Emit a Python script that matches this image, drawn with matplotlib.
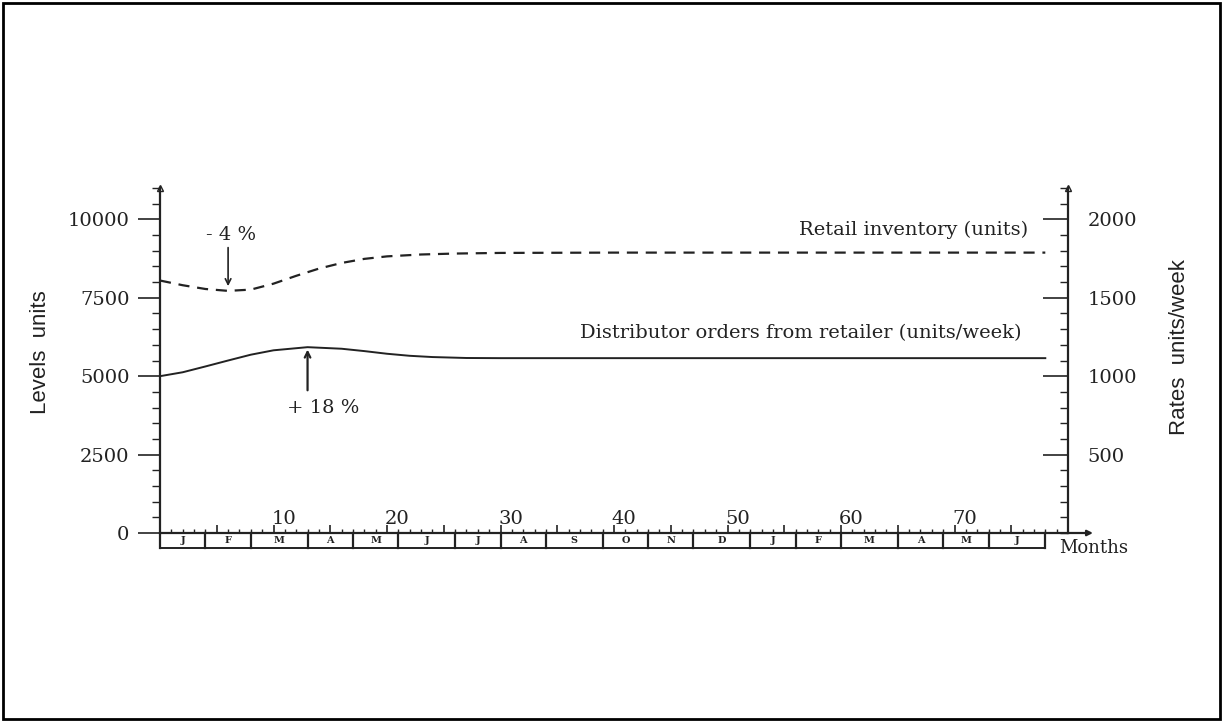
import matplotlib
matplotlib.use("Agg")
import matplotlib.pyplot as plt
from matplotlib.patches import Rectangle
from matplotlib.ticker import MultipleLocator
import numpy as np

# values (weeks on x)
retail_weeks = [0, 2, 4, 6, 8, 10, 12, 14, 16, 18, 20, 23, 26, 30, 40, 78]
retail_inventory = [8050, 7900, 7780, 7720, 7760, 7950, 8200, 8430, 8610,
                    8740, 8820, 8880, 8910, 8930, 8940, 8940]  # units

order_weeks = [0, 2, 4, 6, 8, 10, 13, 16, 18, 20, 22, 24, 27, 30, 78]
distributor_orders = [1000, 1025, 1062, 1100, 1137, 1165, 1185, 1175, 1160,
                      1143, 1130, 1122, 1116, 1115, 1115]  # units/week

level_ticks = [0, 2500, 5000, 7500, 10000]
rate_ticks = [500, 1000, 1500, 2000]
week_labels = [10, 20, 30, 40, 50, 60, 70]
month_names = ["J", "F", "M", "A", "M", "J", "J", "A", "S",
               "O", "N", "D", "J", "F", "M", "A", "M", "J"]
month_weeks = [4, 4, 5] * 6

ink = "#222222"
plt.rcParams["font.family"] = ["DejaVu Serif"]
plt.rcParams["text.color"] = ink
plt.rcParams["axes.edgecolor"] = ink
plt.rcParams["xtick.color"] = ink
plt.rcParams["ytick.color"] = ink

fig = plt.figure(figsize=(12.23, 7.22), dpi=100)
fig.patches.append(Rectangle((3 / 1223, 3 / 722), 1217 / 1223, 716 / 722,
                             transform=fig.transFigure, fill=False,
                             edgecolor="black", linewidth=2))

ax = fig.add_axes([160 / 1223, 189 / 722, 908 / 1223, 345 / 722])
ax.set_xlim(0, 80)
ax.set_ylim(0, 11000)
ax2 = ax.twinx()
ax2.set_ylim(0, 11000 / 5)

for s in ["top", "right", "bottom"]:
    ax.spines[s].set_visible(False)
for s in ["top", "left", "bottom"]:
    ax2.spines[s].set_visible(False)
ax.spines["left"].set_linewidth(1.6)
ax2.spines["right"].set_linewidth(1.6)

# left axis (levels)
ax.set_yticks(level_ticks)
ax.yaxis.set_minor_locator(MultipleLocator(500))
ax.tick_params(axis="y", which="major", direction="out", length=16, width=1.2,
               pad=6, labelsize=14)
ax.tick_params(axis="y", which="minor", direction="out", length=6, width=1)

# right axis (rates)
ax2.set_yticks(rate_ticks)
ax2.yaxis.set_minor_locator(MultipleLocator(100))
ax2.tick_params(axis="y", which="major", direction="in", length=18, width=1.2,
                pad=14, labelsize=14)
ax2.tick_params(axis="y", which="minor", direction="in", length=6, width=1)

# week axis: ticks point up, labels sit above the line
ax.set_xticks(range(0, 81, 5))
ax.xaxis.set_minor_locator(MultipleLocator(1))
ax.set_xticklabels([])
ax.tick_params(axis="x", which="major", direction="in", length=6, width=1.2)
ax.tick_params(axis="x", which="minor", direction="in", length=3, width=1)
for w in week_labels:
    ax.text(w + 0.9, 300, str(w), ha="center", va="baseline", fontsize=14)

ax.annotate("", xy=(82.2, 0), xytext=(0, 0), annotation_clip=False,
            arrowprops=dict(arrowstyle="-|>", color=ink, lw=1.6,
                            mutation_scale=8, shrinkA=0, shrinkB=0))
ax.plot([0, 1], [1, 1], linestyle="none", marker="^", markersize=5,
        mfc="white", mec=ink, transform=ax.transAxes, clip_on=False)

# month boxes under the axis
edges = np.concatenate([[0], np.cumsum(month_weeks)])
depth = 480
ax.plot([edges[0], edges[-1]], [-depth, -depth], color=ink, lw=1.4, clip_on=False)
for e in edges:
    ax.plot([e, e], [0, -depth], color=ink, lw=1.6, clip_on=False)
for name, a, b in zip(month_names, edges[:-1], edges[1:]):
    ax.text((a + b) / 2, -depth / 2, name, ha="center", va="center",
            fontsize=7, fontweight="bold")
ax.text(79.2, -depth, "Months", ha="left", va="center", fontsize=13)

# series
ax.plot(retail_weeks, retail_inventory, color=ink, lw=1.6,
        linestyle=(0, (5, 3.5)))
ax2.plot(order_weeks, distributor_orders, color=ink, lw=1.4)

ax.text(76.5, 9650, "Retail inventory (units)", ha="right", va="center",
        fontsize=14)
ax.text(75.9, 6370, "Distributor orders from retailer (units/week)",
        ha="right", va="center", fontsize=14)

# -4 % dip of the inventory
i_min = int(np.argmin(retail_inventory))
w_min, v_min = retail_weeks[i_min], retail_inventory[i_min]
ax.text(w_min + 0.3, 9500, "- 4 %", ha="center", va="center", fontsize=14)
ax.annotate("", xy=(w_min, v_min + 150), xytext=(w_min, 9100),
            arrowprops=dict(arrowstyle="->", color=ink, lw=1.2,
                            shrinkA=0, shrinkB=0))

# +18 % peak of the orders
i_max = int(np.argmax(distributor_orders))
w_max, v_max = order_weeks[i_max], distributor_orders[i_max]
ax2.text(w_max + 1.4, 796, "+ 18 %", ha="center", va="center", fontsize=14)
ax2.annotate("", xy=(w_max, v_max - 15), xytext=(w_max, 910),
             arrowprops=dict(arrowstyle="->", color=ink, lw=1.6,
                             shrinkA=0, shrinkB=0))

ax.text(-0.132, 0.525, "Levels  units", rotation=90, transform=ax.transAxes,
        ha="center", va="center", fontsize=16,
        family=["Liberation Sans Narrow", "Liberation Sans", "DejaVu Sans"])
ax.text(1.123, 0.54, "Rates  units/week", rotation=90, transform=ax.transAxes,
        ha="center", va="center", fontsize=16,
        family=["Liberation Sans Narrow", "Liberation Sans", "DejaVu Sans"])

fig.savefig("out.png", dpi=100, facecolor="white")
